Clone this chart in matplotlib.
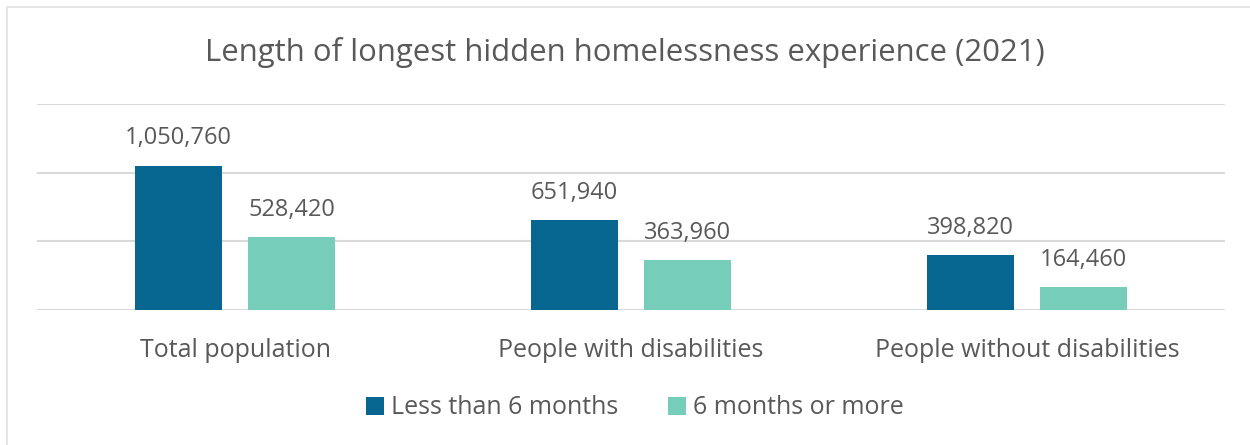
import matplotlib.pyplot as plt
import numpy as np
from matplotlib.patches import Rectangle

plt.rcParams['font.family'] = ['Open Sans', 'DejaVu Sans']

categories = ["Total population", "People with disabilities", "People without disabilities"]
series_names = ["Less than 6 months", "6 months or more"]
less_than_6 = [1050760, 651940, 398820]
six_or_more = [528420, 363960, 164460]

dark = "#06668F"
light = "#76CDB9"
text_color = "#595959"
grid_color = "#D9D9D9"

fig = plt.figure(figsize=(12.5, 4.45), dpi=100)
fig.patches.append(Rectangle((7 / 1250, -0.1), 1.2, 1 - 7 / 445 + 0.1,
                             transform=fig.transFigure, fill=False,
                             edgecolor="#E0E0E0", linewidth=1.2))

ax = fig.add_axes([37 / 1250, 1 - 310 / 445, (1225 - 37) / 1250, (310 - 104) / 445])
x = np.arange(len(categories))
w = 0.222
off = 0.1427
b1 = ax.bar(x - off, less_than_6, w, color=dark, label=series_names[0], zorder=3)
b2 = ax.bar(x + off, six_or_more, w, color=light, label=series_names[1], zorder=3)

for bars, vals in ((b1, less_than_6), (b2, six_or_more)):
    for r, v in zip(bars, vals):
        ax.annotate(f"{v:,}", (r.get_x() + r.get_width() / 2, v),
                    xytext=(0, 11), textcoords="offset points",
                    ha="center", va="bottom", fontsize=17, color=text_color)

ax.set_xlim(-0.5, 2.5)
ax.set_ylim(0, 1500000)
ax.set_yticks([0, 500000, 1000000, 1500000])
ax.yaxis.grid(True, color=grid_color, linewidth=1.5, zorder=0)
ax.tick_params(axis="y", left=False, labelleft=False)
ax.tick_params(axis="x", bottom=False, pad=16.5, labelsize=18, labelcolor=text_color)
ax.set_xticks(x)
ax.set_xticklabels(categories)
for s in ax.spines.values():
    s.set_visible(False)

fig.text(0.5, 1 - 52 / 445, "Length of longest hidden homelessness experience (2021)",
         ha="center", va="center", fontsize=22.4, color=text_color)

fig.legend(handles=[b1, b2], labels=series_names, loc="center",
           bbox_to_anchor=(0.508, 1 - 408 / 445), ncol=2, frameon=False,
           fontsize=18, labelcolor=text_color, handlelength=0.7, handleheight=0.7,
           handletextpad=0.3, columnspacing=2.0)

fig.savefig("out.png", dpi=100, facecolor="white")
